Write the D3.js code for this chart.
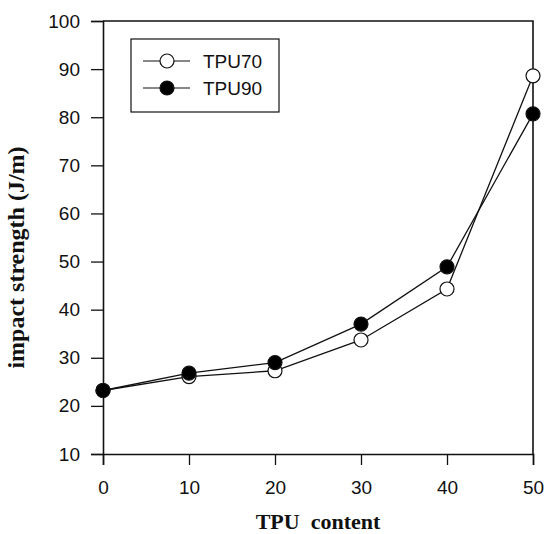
<!DOCTYPE html>
<html>
<head>
<meta charset="utf-8">
<script src="https://cdn.jsdelivr.net/npm/d3@7"></script>
<style>
  body { margin: 0; background: #fff; }
  svg { display: block; }
  .tick text { font-family: Arial, "Liberation Sans", sans-serif; font-size: 19px; fill: #111; }
  .axis-title { font-family: "Times New Roman", "Liberation Serif", serif; font-weight: bold; fill: #111; }
  .legend text { font-family: Arial, "Liberation Sans", sans-serif; font-size: 19px; fill: #111; }
</style>
</head>
<body>
<script>
// Data
const tpuContent = [0, 10, 20, 30, 40, 50];
const tpu70 = [23.2, 26.1, 27.3, 33.7, 44.3, 88.6];
const tpu90 = [23.2, 26.8, 29.0, 37.0, 48.9, 80.7];
const xTicks = [0, 10, 20, 30, 40, 50];
const yTicks = [10, 20, 30, 40, 50, 60, 70, 80, 90, 100];
const seriesNames = ['TPU70', 'TPU90'];
const seriesFill = ['#fff', '#000'];

const W = 548, H = 534;
const margin = { top: 21, right: 15, bottom: 80, left: 103 };
const plotW = W - margin.left - margin.right;
const plotH = H - margin.top - margin.bottom;

const svg = d3.select('body').append('svg')
  .attr('width', W)
  .attr('height', H);

const g = svg.append('g')
  .attr('transform', `translate(${margin.left},${margin.top})`);

const x = d3.scaleLinear().domain([0, 50]).range([0, plotW]);
const y = d3.scaleLinear().domain([10, 100]).range([plotH, 0]);

// Axes
const xAxis = g.append('g')
  .attr('transform', `translate(0,${plotH})`)
  .call(d3.axisBottom(x).tickValues(xTicks).tickSize(11).tickPadding(16));

const yAxis = g.append('g')
  .call(d3.axisLeft(y).tickValues(yTicks).tickSize(12).tickPadding(11));

[xAxis, yAxis].forEach((ax) => {
  ax.select('.domain').attr('stroke', '#111').attr('stroke-width', 1.6);
  ax.selectAll('.tick line').attr('stroke', '#111').attr('stroke-width', 1.3);
});

// Frame top + right
g.append('path')
  .attr('d', `M0,0H${plotW}V${plotH}`)
  .attr('fill', 'none')
  .attr('stroke', '#111')
  .attr('stroke-width', 1.6);

// Series
const series = [tpu70, tpu90];
const line = d3.line()
  .x((d, i) => x(tpuContent[i]))
  .y(d => y(d));

series.forEach((vals) => {
  g.append('path')
    .datum(vals)
    .attr('d', line)
    .attr('fill', 'none')
    .attr('stroke', '#111')
    .attr('stroke-width', 1.3);
});

series.forEach((vals, s) => {
  g.selectAll(null)
    .data(vals)
    .join('circle')
      .attr('cx', (d, i) => x(tpuContent[i]))
      .attr('cy', d => y(d))
      .attr('r', 7)
      .attr('fill', seriesFill[s])
      .attr('stroke', '#111')
      .attr('stroke-width', 1.2);
});

// Legend
const legend = svg.append('g').attr('class', 'legend');
legend.append('rect')
  .attr('x', 131).attr('y', 39)
  .attr('width', 148).attr('height', 73)
  .attr('fill', '#fff')
  .attr('stroke', '#111')
  .attr('stroke-width', 1.2);

seriesNames.forEach((name, s) => {
  const ly = 61 + s * 27;
  legend.append('line')
    .attr('x1', 143).attr('x2', 190)
    .attr('y1', ly).attr('y2', ly)
    .attr('stroke', '#111').attr('stroke-width', 1.2);
  legend.append('circle')
    .attr('cx', 167).attr('cy', ly).attr('r', 7)
    .attr('fill', seriesFill[s])
    .attr('stroke', '#111').attr('stroke-width', 1.2);
  legend.append('text')
    .attr('x', 203).attr('y', ly)
    .attr('dy', '0.35em')
    .text(name);
});

// Axis titles
svg.append('text')
  .attr('class', 'axis-title')
  .attr('x', margin.left + plotW / 2)
  .attr('y', 529)
  .attr('text-anchor', 'middle')
  .attr('font-size', 22)
  .attr('xml:space', 'preserve')
  .text('TPU  content');

svg.append('text')
  .attr('class', 'axis-title')
  .attr('transform', `translate(24,${margin.top + plotH / 2 + 20}) rotate(-90)`)
  .attr('text-anchor', 'middle')
  .attr('font-size', 24)
  .text('impact strength (J/m)');
</script>
</body>
</html>
